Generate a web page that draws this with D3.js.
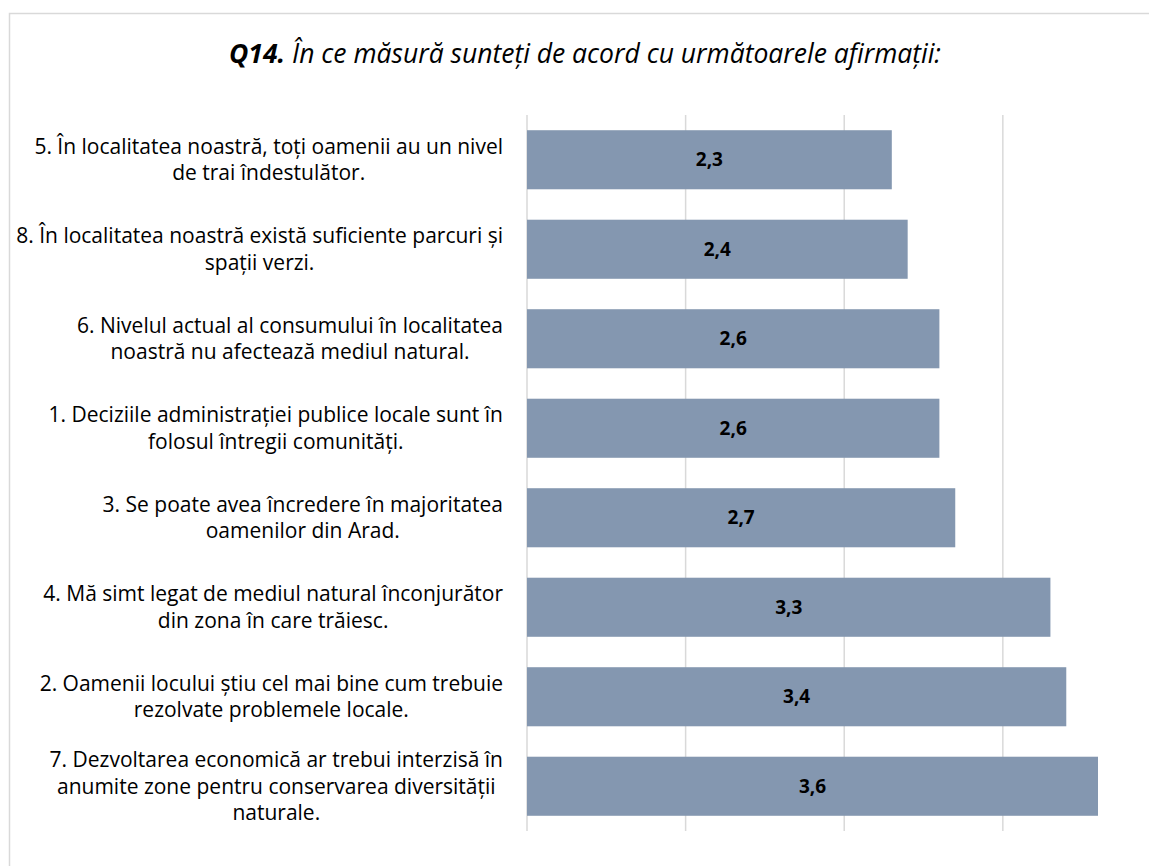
<!DOCTYPE html>
<html><head><meta charset="utf-8">
<script src="https://cdn.jsdelivr.net/npm/d3@7"></script>
<style>body{margin:0;background:#fff;} svg{display:block;}</style>
</head><body><svg id="c" width="1149" height="866"></svg>
<script>
const titleBold = "Q14.";
const titleRest = " În ce măsură sunteți de acord cu următoarele afirmații:";
const categories = [
  ["5. În localitatea noastră, toți oamenii au un nivel", "de trai îndestulător."],
  ["8. În localitatea noastră există suficiente parcuri și", "spații verzi."],
  ["6. Nivelul actual al consumului în localitatea", "noastră nu afectează mediul natural."],
  ["1. Deciziile administrației publice locale sunt în", "folosul întregii comunități."],
  ["3. Se poate avea încredere în majoritatea", "oamenilor din Arad."],
  ["4. Mă simt legat de mediul natural înconjurător", "din zona în care trăiesc."],
  ["2. Oamenii locului știu cel mai bine cum trebuie", "rezolvate problemele locale."],
  ["7. Dezvoltarea economică ar trebui interzisă în", "anumite zone pentru conservarea diversității", "naturale."]
];
const values = [2.3, 2.4, 2.6, 2.6, 2.7, 3.3, 3.4, 3.6];
const gridTicks = [0, 1, 2, 3];

const font = "'Open Sans', sans-serif";
const svg = d3.select("#c");
svg.append("rect").attr("x", 9.5).attr("y", 13.5).attr("width", 1200).attr("height", 900)
  .attr("fill", "#fff").attr("stroke", "#d9d9d9").attr("stroke-width", 1.5);

const x = d3.scaleLinear().domain([0, 3.6]).range([527, 1098]);
const y = d3.scaleBand().domain(d3.range(values.length)).range([115, 831]).paddingInner(0.34).paddingOuter(0.17);

const loc = d3.formatLocale({decimal: ",", thousands: ".", grouping: [3], currency: ["", ""]});
const fmt = loc.format(".1f");

svg.append("g").selectAll("line").data(gridTicks).join("line")
  .attr("x1", d => x(d)).attr("x2", d => x(d))
  .attr("y1", 115).attr("y2", 831)
  .attr("stroke", "#d9d9d9").attr("stroke-width", 1.5);

svg.append("g").selectAll("rect").data(values).join("rect")
  .attr("x", x(0)).attr("y", (d, i) => y(i))
  .attr("width", d => x(d) - x(0)).attr("height", y.bandwidth())
  .attr("fill", "#8497b0");

svg.append("g").selectAll("text").data(values).join("text")
  .attr("x", d => (x(0) + x(d)) / 2).attr("y", (d, i) => y(i) + y.bandwidth() / 2)
  .attr("dy", "0.35em").attr("text-anchor", "middle")
  .attr("font-family", font).attr("font-weight", "bold").attr("font-size", 19)
  .attr("fill", "#000").text(d => fmt(d));

const labelRight = 503, lineH = 26.5, labelSize = 21;
categories.forEach((lines, i) => {
  const g = svg.append("g");
  const cy = y(i) + y.bandwidth() / 2;
  const texts = lines.map((l, k) => g.append("text")
    .attr("y", cy + (k - (lines.length - 1) / 2) * lineH)
    .attr("dy", "0.35em").attr("text-anchor", "middle")
    .attr("font-family", font).attr("font-size", labelSize).attr("fill", "#000").text(l));
  const maxW = d3.max(texts, t => t.node().getComputedTextLength());
  texts.forEach(t => t.attr("x", labelRight - maxW / 2));
});

const t = svg.append("text").attr("x", 585).attr("y", 63).attr("text-anchor", "middle")
  .attr("font-family", font).attr("font-size", 26.5).attr("font-style", "italic").attr("fill", "#000");
t.append("tspan").attr("font-weight", "bold").text(titleBold);
t.append("tspan").text(titleRest);
</script></body></html>
